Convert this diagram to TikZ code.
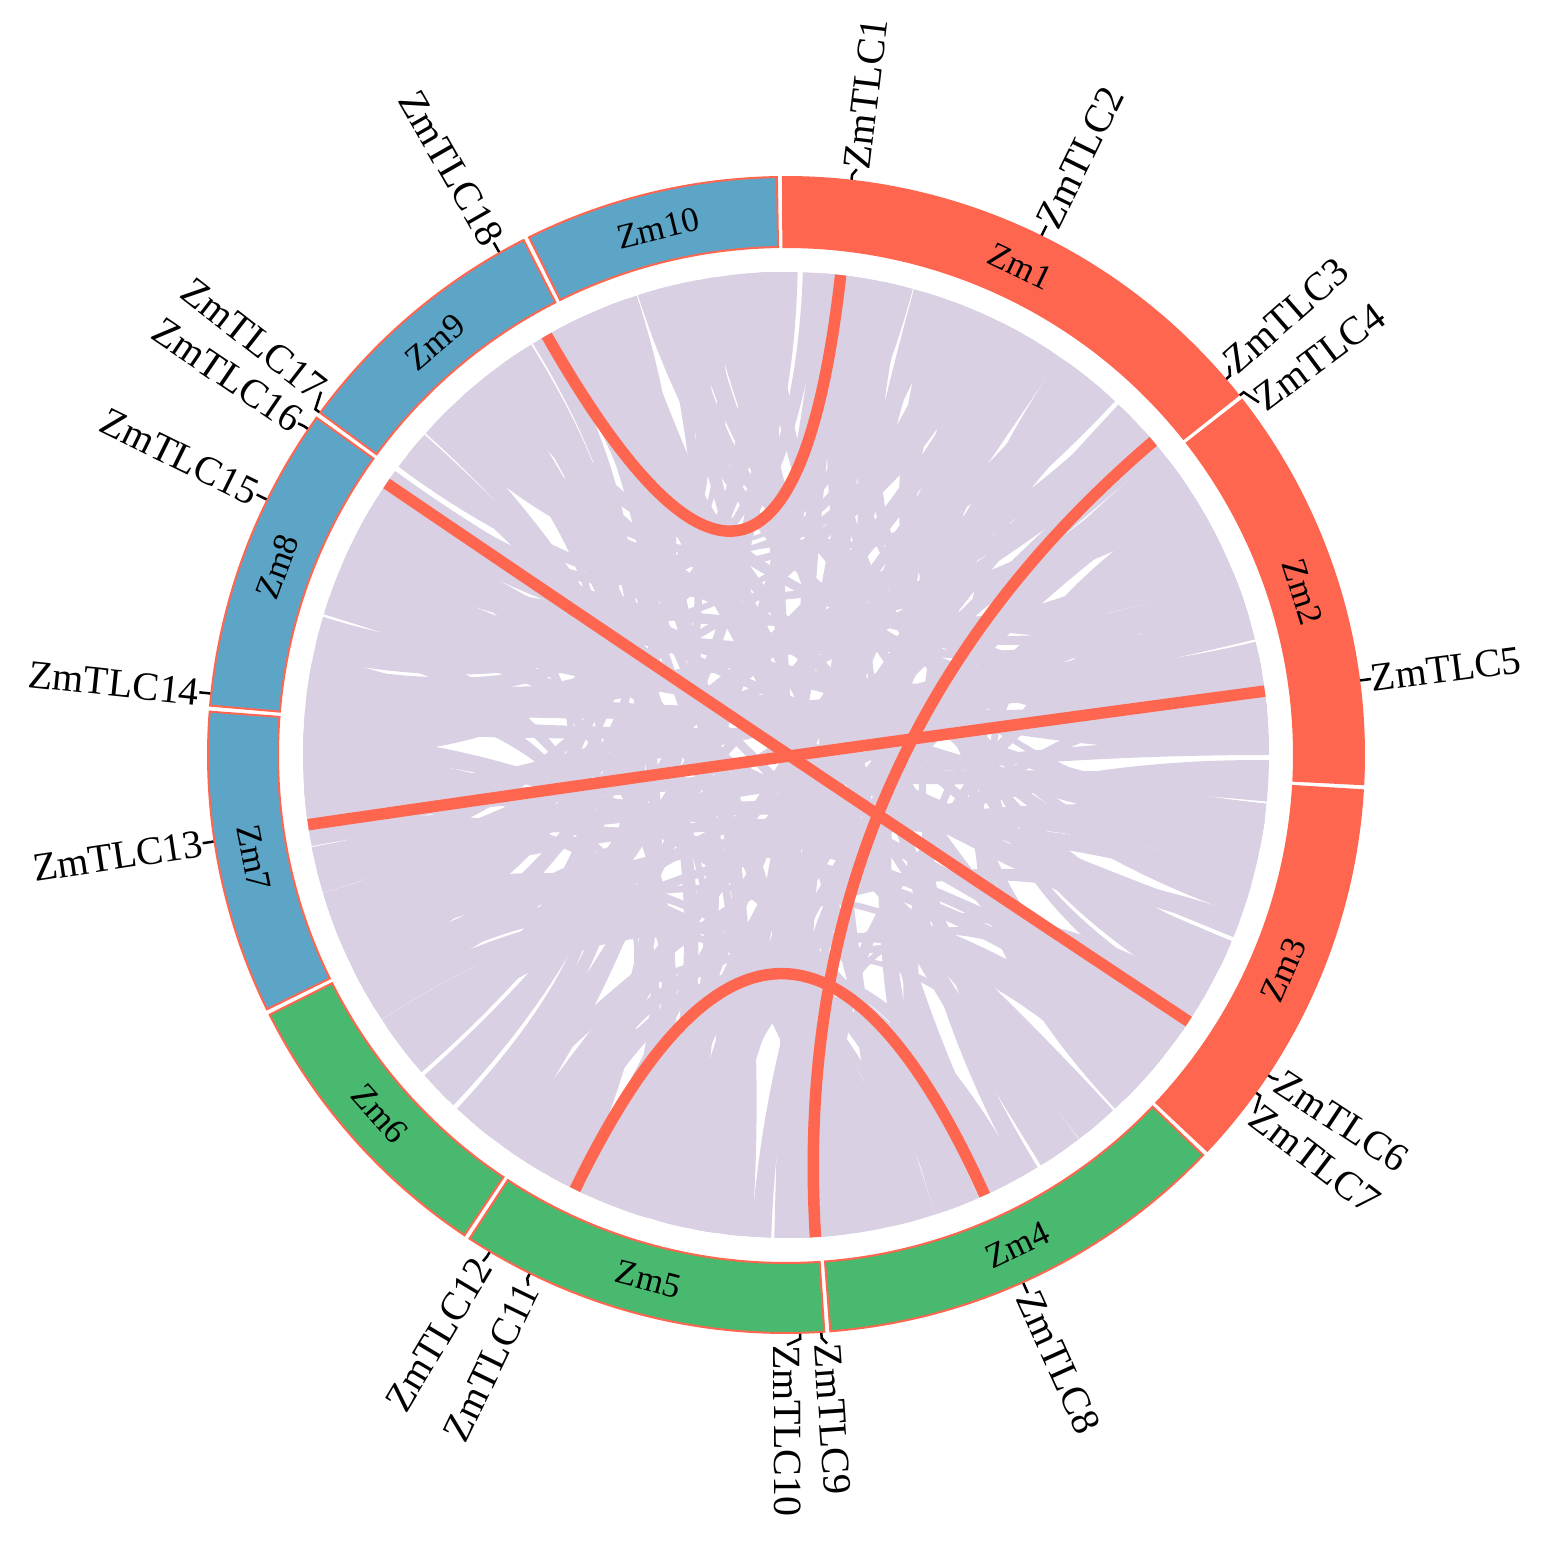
\documentclass[tikz,border=0pt]{standalone}
\usepackage{fontspec}
\setmainfont{Liberation Serif}
\definecolor{tred}{HTML}{FF6650}
\definecolor{tblue}{HTML}{5CA5C7}
\definecolor{tgreen}{HTML}{48B96F}
\definecolor{lav}{HTML}{D9D0E3}
\tikzset{
  chord/.style={fill=lav},
  rlink/.style={draw=tred, line width=11.5, line cap=butt},
  chrlab/.style={font=\fontsize{35}{35}\selectfont, inner sep=0},
  glab/.style={font=\fontsize{40}{40}\selectfont, inner sep=0},
  gtick/.style={draw=black, line width=2.5},
}
\begin{document}
\begin{tikzpicture}[x=1pt,y=1pt]
\useasboundingbox (-786,-786) rectangle (762,755);
\fill[white] (-786,-786) rectangle (762,755);
% ---- lavender synteny ribbons
\pgfmathsetseed{4242}
\foreach \i in {0,...,129}{
  \pgfmathsetmacro{\aa}{\i*2.7692308}
  \pgfmathsetmacro{\ab}{\aa+2.1+1.1*rnd}
  \pgfmathsetmacro{\ba}{\aa+50+260*rnd}
  \pgfmathsetmacro{\bb}{\ba+1.2+2.6*rnd}
  \fill[chord] (\aa:483) arc[start angle=\aa,end angle=\ab,radius=483]
    .. controls (\ab:161) and (\ba:161) .. (\ba:483)
    arc[start angle=\ba,end angle=\bb,radius=483]
    .. controls (\bb:161) and (\aa:161) .. cycle;
}
\pgfmathsetseed{777}
\foreach \i in {0,...,23}{
  \pgfmathsetmacro{\aa}{\i*15+4.1}
  \pgfmathsetmacro{\ab}{\aa+1.5+2.0*rnd}
  \pgfmathsetmacro{\ba}{\aa+70+220*rnd}
  \pgfmathsetmacro{\bb}{\ba+1.5+2.0*rnd}
  \fill[chord] (\aa:483) arc[start angle=\aa,end angle=\ab,radius=483]
    .. controls (\ab:161) and (\ba:161) .. (\ba:483)
    arc[start angle=\ba,end angle=\bb,radius=483]
    .. controls (\bb:161) and (\aa:161) .. cycle;
}
% ---- gene positions on the link circle
\foreach \n/\tA in {1/6.5,18/330.3,3/49.5,9/176.5,16/304.2,6/123.5,13/261.7,5/82.4,11/205.9,8/155.7}{
  \coordinate (q\n) at (90-\tA:483);
}
% ---- red links (control points at 1/3 radius: quadratic via centre)
\draw[rlink] (q1) .. controls (83.5:161) and (119.7:161) .. (q18);
\draw[rlink] (q3) .. controls (40.5:161) and (-86.5:161) .. (q9);
\draw[rlink] (q16) .. controls (-214.2:161) and (-33.5:161) .. (q6);
\draw[rlink] (q13) .. controls (-171.7:161) and (7.6:161) .. (q5);
\draw[rlink] (q11) .. controls (-115.9:161) and (-65.7:161) .. (q8);
% ---- chromosome ring
\foreach \nm/\thA/\thB/\col in {Zm1/-0.6/51.8/tred, Zm2/51.8/93.2/tred, Zm3/93.2/133.5/tred,
   Zm4/133.5/175.9/tgreen, Zm5/175.9/213.5/tgreen, Zm6/213.5/243.6/tgreen,
   Zm7/243.6/274.6/tblue, Zm8/274.6/306/tblue, Zm9/306/333.3/tblue, Zm10/333.3/359.4/tblue}{
  \pgfmathsetmacro{\pa}{90-\thA-0.3}
  \pgfmathsetmacro{\pb}{90-\thB+0.3}
  \pgfmathsetmacro{\thm}{(\thA+\thB)/2}
  \pgfmathsetmacro{\pmid}{90-\thm}
  \pgfmathsetmacro{\rot}{ifthenelse(and(\thm>90,\thm<270),180-\thm,-\thm)}
  \filldraw[fill=\col, draw=tred, line width=2] (\pa:578) arc[start angle=\pa,end angle=\pb,radius=578]
     -- (\pb:508) arc[start angle=\pb,end angle=\pa,radius=508] -- cycle;
  \node[chrlab, rotate=\rot] (c\nm) at (\pmid:542) {\nm};
}
% ---- gene labels
\foreach \n/\tA/\tL in {1/6.5/6.9, 2/26.2/26.2, 3/49.5/48.7, 4/51.6/53.3, 5/82.6/82.6,
   6/123.6/123.4, 7/125.7/127.4, 8/155.8/155.8, 9/176.5/176.0, 10/178.6/179.9,
   11/206.3/205.9, 12/210.8/210.9, 13/261.4/261.4, 14/276.1/276.1, 15/296.2/296.2,
   16/304.3/304.2, 17/306.3/308.0, 18/330.3/330.3}{
  \pgfmathsetmacro{\phT}{90-\tA}
  \pgfmathsetmacro{\phL}{90-\tL}
  \coordinate (s\n) at (\phT:579);
  \coordinate (k\n) at (\phL:590);
  \draw[gtick] (s\n) -- (\phT:584) -- (k\n);
  \ifdim\tL pt<180pt
    \node[glab, anchor=west, rotate=\phL] (g\n) at (k\n) {ZmTLC\n};
  \else
    \pgfmathsetmacro{\rr}{\phL+180}
    \node[glab, anchor=east, rotate=\rr] (g\n) at (k\n) {ZmTLC\n};
  \fi
}
\end{tikzpicture}
\end{document}
